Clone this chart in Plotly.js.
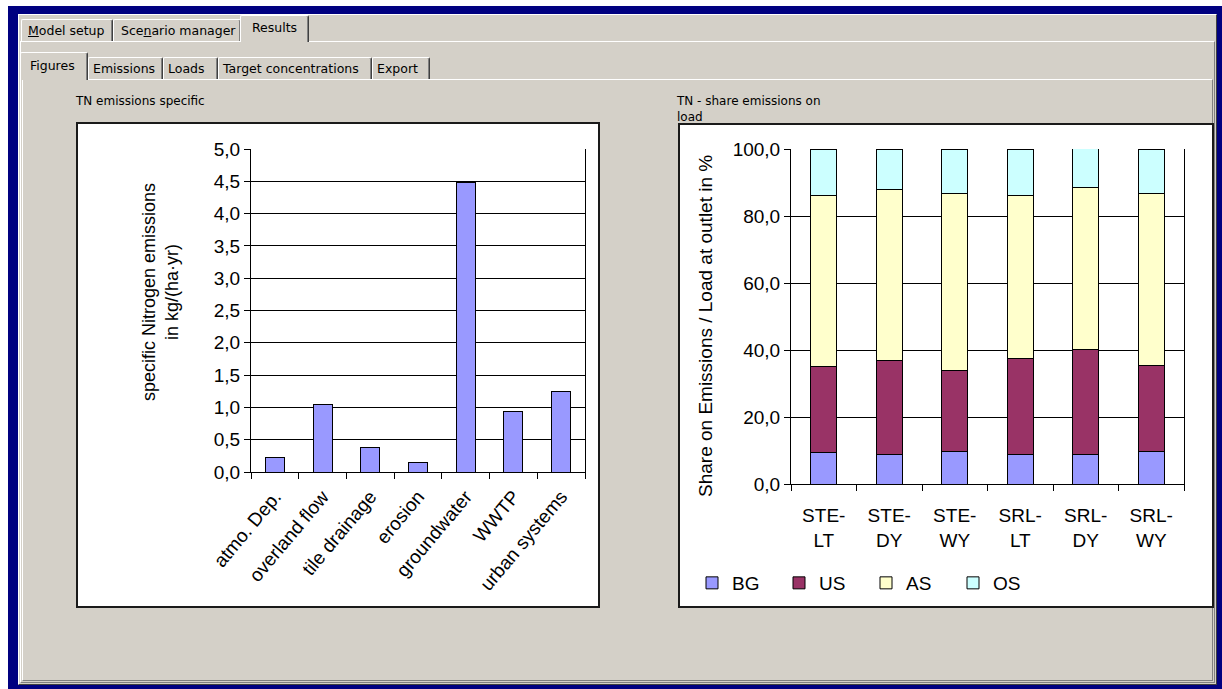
<!DOCTYPE html>
<html><head><meta charset="utf-8">
<script src="https://cdn.plot.ly/plotly-3.0.1.min.js"></script>
<style>
html,body{margin:0;padding:0;width:1222px;height:689px;overflow:hidden;background:#fff;}
.abs{position:absolute;box-sizing:border-box;}
#frame{left:8px;top:6px;width:1214px;height:683px;background:#000080;}
#client{left:18px;top:14px;width:1199px;height:671px;background:#D4D0C8;border-left:1px solid #fff;border-top:1px solid #fff;border-right:1px solid #404040;border-bottom:1px solid #404040;}
#panel1{left:20px;top:41px;width:1195px;height:642px;border-top:1px solid #fff;border-left:1px solid #fff;border-right:1px solid #808080;border-bottom:1px solid #808080;}
#panel2{left:22px;top:79px;width:1191px;height:602px;border-top:1px solid #fff;border-left:1px solid #fff;border-right:1px solid #808080;border-bottom:1px solid #808080;}
.tab{position:absolute;box-sizing:border-box;background:#D4D0C8;border-top:1px solid #fff;border-left:1px solid #fff;border-right:1px solid #404040;box-shadow:inset -1px 0 0 #808080;border-top-left-radius:2px;border-top-right-radius:2px;font-family:"DejaVu Sans",sans-serif;font-size:12.5px;color:#000;white-space:nowrap;}
#chart{position:absolute;left:0;top:0;width:1222px;height:689px;}
</style>
</head>
<body>
<div id="frame" class="abs"></div>
<div id="client" class="abs"></div>
<div id="panel1" class="abs"></div>
<div id="panel2" class="abs"></div>
<div class="tab" style="left:21px;top:19px;width:92px;height:22px;line-height:22px;padding-left:6px;"><u>M</u>odel setup</div>
<div class="tab" style="left:113px;top:19px;width:128px;height:22px;line-height:22px;padding-left:7px;">Sce<u>n</u>ario manager</div>
<div class="tab" style="left:240px;top:15px;width:69px;height:27px;line-height:24px;padding-left:11px;">Results</div>
<div class="tab" style="left:20px;top:52px;width:68px;height:28px;line-height:26px;padding-left:9px;">Figures</div>
<div class="tab" style="left:88px;top:57px;width:75px;height:22px;line-height:22px;padding-left:4px;">Emissions</div>
<div class="tab" style="left:163px;top:57px;width:55px;height:22px;line-height:22px;padding-left:4px;">Loads</div>
<div class="tab" style="left:218px;top:57px;width:154px;height:22px;line-height:22px;padding-left:4px;">Target concentrations</div>
<div class="tab" style="left:372px;top:57px;width:58px;height:22px;line-height:22px;padding-left:4px;">Export</div>
<div id="chart"></div>
<script>
// ---- data ----
const emisCategories = ['atmo. Dep.', 'overland flow', 'tile drainage', 'erosion', 'groundwater', 'WWTP', 'urban systems'];
const emisValues = [0.23, 1.04, 0.38, 0.15, 4.48, 0.93, 1.25];

const shareCategories = ['STE-LT', 'STE-DY', 'STE-WY', 'SRL-LT', 'SRL-DY', 'SRL-WY'];
const shareTickText = ['STE-<br>LT', 'STE-<br>DY', 'STE-<br>WY', 'SRL-<br>LT', 'SRL-<br>DY', 'SRL-<br>WY'];
const seriesBG = [9.3, 8.9, 9.6, 8.9, 8.9, 9.6];
const seriesUS = [25.7, 28.1, 24.2, 28.5, 31.3, 25.8];
const seriesAS = [51.0, 51.0, 53.0, 48.6, 48.2, 51.4];
const seriesOS = [14.0, 12.0, 13.2, 14.0, 12.1, 13.2];
const seriesNames = ['BG', 'US', 'AS', 'OS'];

// ---- layout helpers ----
const W = 1222, H = 689;
const X = p => p / W;
const Y = p => 1 - p / H;
const ARIAL = 'Liberation Sans, Arial, sans-serif';
const UI = 'DejaVu Sans, sans-serif';
const colors = {BG: '#9999FF', US: '#993366', AS: '#FFFFCC', OS: '#CCFFFF'};
const outline = {color: '#000', width: 1};

const traces = [
  {type: 'bar', x: emisCategories, y: emisValues, xaxis: 'x', yaxis: 'y',
   marker: {color: colors.BG, line: outline}, showlegend: false, hoverinfo: 'skip'}
];
const seriesData = [seriesBG, seriesUS, seriesAS, seriesOS];
seriesNames.forEach((n, i) => {
  traces.push({type: 'bar', name: n, x: shareCategories, y: seriesData[i], xaxis: 'x2', yaxis: 'y2',
    marker: {color: colors[n], line: outline}, cliponaxis: false, hoverinfo: 'skip'});
});

const axisCommon = {
  ticks: 'outside', ticklen: 6, tickcolor: '#000', tickwidth: 1,
  showline: true, linecolor: '#000', linewidth: 1, fixedrange: true
};

const layout = {
  width: W, height: H,
  margin: {l: 0, r: 0, t: 0, b: 0},
  paper_bgcolor: 'rgba(0,0,0,0)', plot_bgcolor: 'rgba(0,0,0,0)',
  barmode: 'stack', bargap: 0.6,
  separators: ',.',
  showlegend: true,
  legend: {orientation: 'h', x: X(692), xanchor: 'left', y: Y(583), yanchor: 'middle',
    traceorder: 'normal', entrywidth: 42, entrywidthmode: 'pixels',
    font: {family: ARIAL, size: 19, color: '#000'}, bgcolor: 'rgba(0,0,0,0)'},
  xaxis: Object.assign({}, axisCommon, {
    domain: [X(251), X(585)], anchor: 'y', type: 'category', tickson: 'boundaries',
    tickangle: -50, showgrid: false, ticklabelstandoff: 5,
    tickfont: {family: ARIAL, size: 19, color: '#000'}}),
  yaxis: Object.assign({}, axisCommon, {
    domain: [Y(472), Y(149)], anchor: 'x', range: [0, 5], dtick: 0.5, tickformat: '.1f',
    showgrid: true, gridcolor: '#000', gridwidth: 1, zeroline: false, mirror: true,
    tickfont: {family: ARIAL, size: 19, color: '#000'}}),
  xaxis2: Object.assign({}, axisCommon, {
    domain: [X(791), X(1184)], anchor: 'y2', type: 'category', tickson: 'boundaries',
    tickvals: shareCategories, ticktext: shareTickText, tickangle: 0, showgrid: false,
    ticklabelstandoff: 14,
    tickfont: {family: ARIAL, size: 19, color: '#000'}}),
  yaxis2: Object.assign({}, axisCommon, {
    domain: [Y(484), Y(149)], anchor: 'x2', range: [0, 100], dtick: 20, tickformat: '.1f',
    showgrid: true, gridcolor: '#000', gridwidth: 1, zeroline: false, mirror: true,
    tickfont: {family: ARIAL, size: 19, color: '#000'}}),
  shapes: [
    {type: 'rect', xref: 'paper', yref: 'paper', x0: X(77), x1: X(599), y0: Y(607), y1: Y(123),
     fillcolor: '#fff', line: {color: '#1a1a1a', width: 2}, layer: 'below'},
    {type: 'rect', xref: 'paper', yref: 'paper', x0: X(679), x1: X(1213), y0: Y(607), y1: Y(124),
     fillcolor: '#fff', line: {color: '#1a1a1a', width: 2}, layer: 'below'}
  ],
  annotations: [
    {xref: 'paper', yref: 'paper', x: X(73), y: Y(101), xanchor: 'left', yanchor: 'middle', showarrow: false,
     text: 'TN emissions specific', font: {family: UI, size: 12, color: '#000'}},
    {xref: 'paper', yref: 'paper', x: X(674), y: Y(92), xanchor: 'left', yanchor: 'top', showarrow: false, align: 'left',
     text: 'TN - share emissions on<br>load', font: {family: UI, size: 12, color: '#000'}},
    {xref: 'paper', yref: 'paper', x: X(161), y: Y(292), xanchor: 'center', yanchor: 'middle', showarrow: false,
     textangle: -90, text: 'specific Nitrogen emissions<br>in kg/(ha·yr)', font: {family: ARIAL, size: 18, color: '#000'}},
    {xref: 'paper', yref: 'paper', x: X(705), y: Y(326), xanchor: 'center', yanchor: 'middle', showarrow: false,
     textangle: -90, text: 'Share on Emissions / Load at outlet in %', font: {family: ARIAL, size: 19, color: '#000'}}
  ]
};

Plotly.newPlot('chart', traces, layout, {staticPlot: true, displayModeBar: false});
</script>
</body></html>
